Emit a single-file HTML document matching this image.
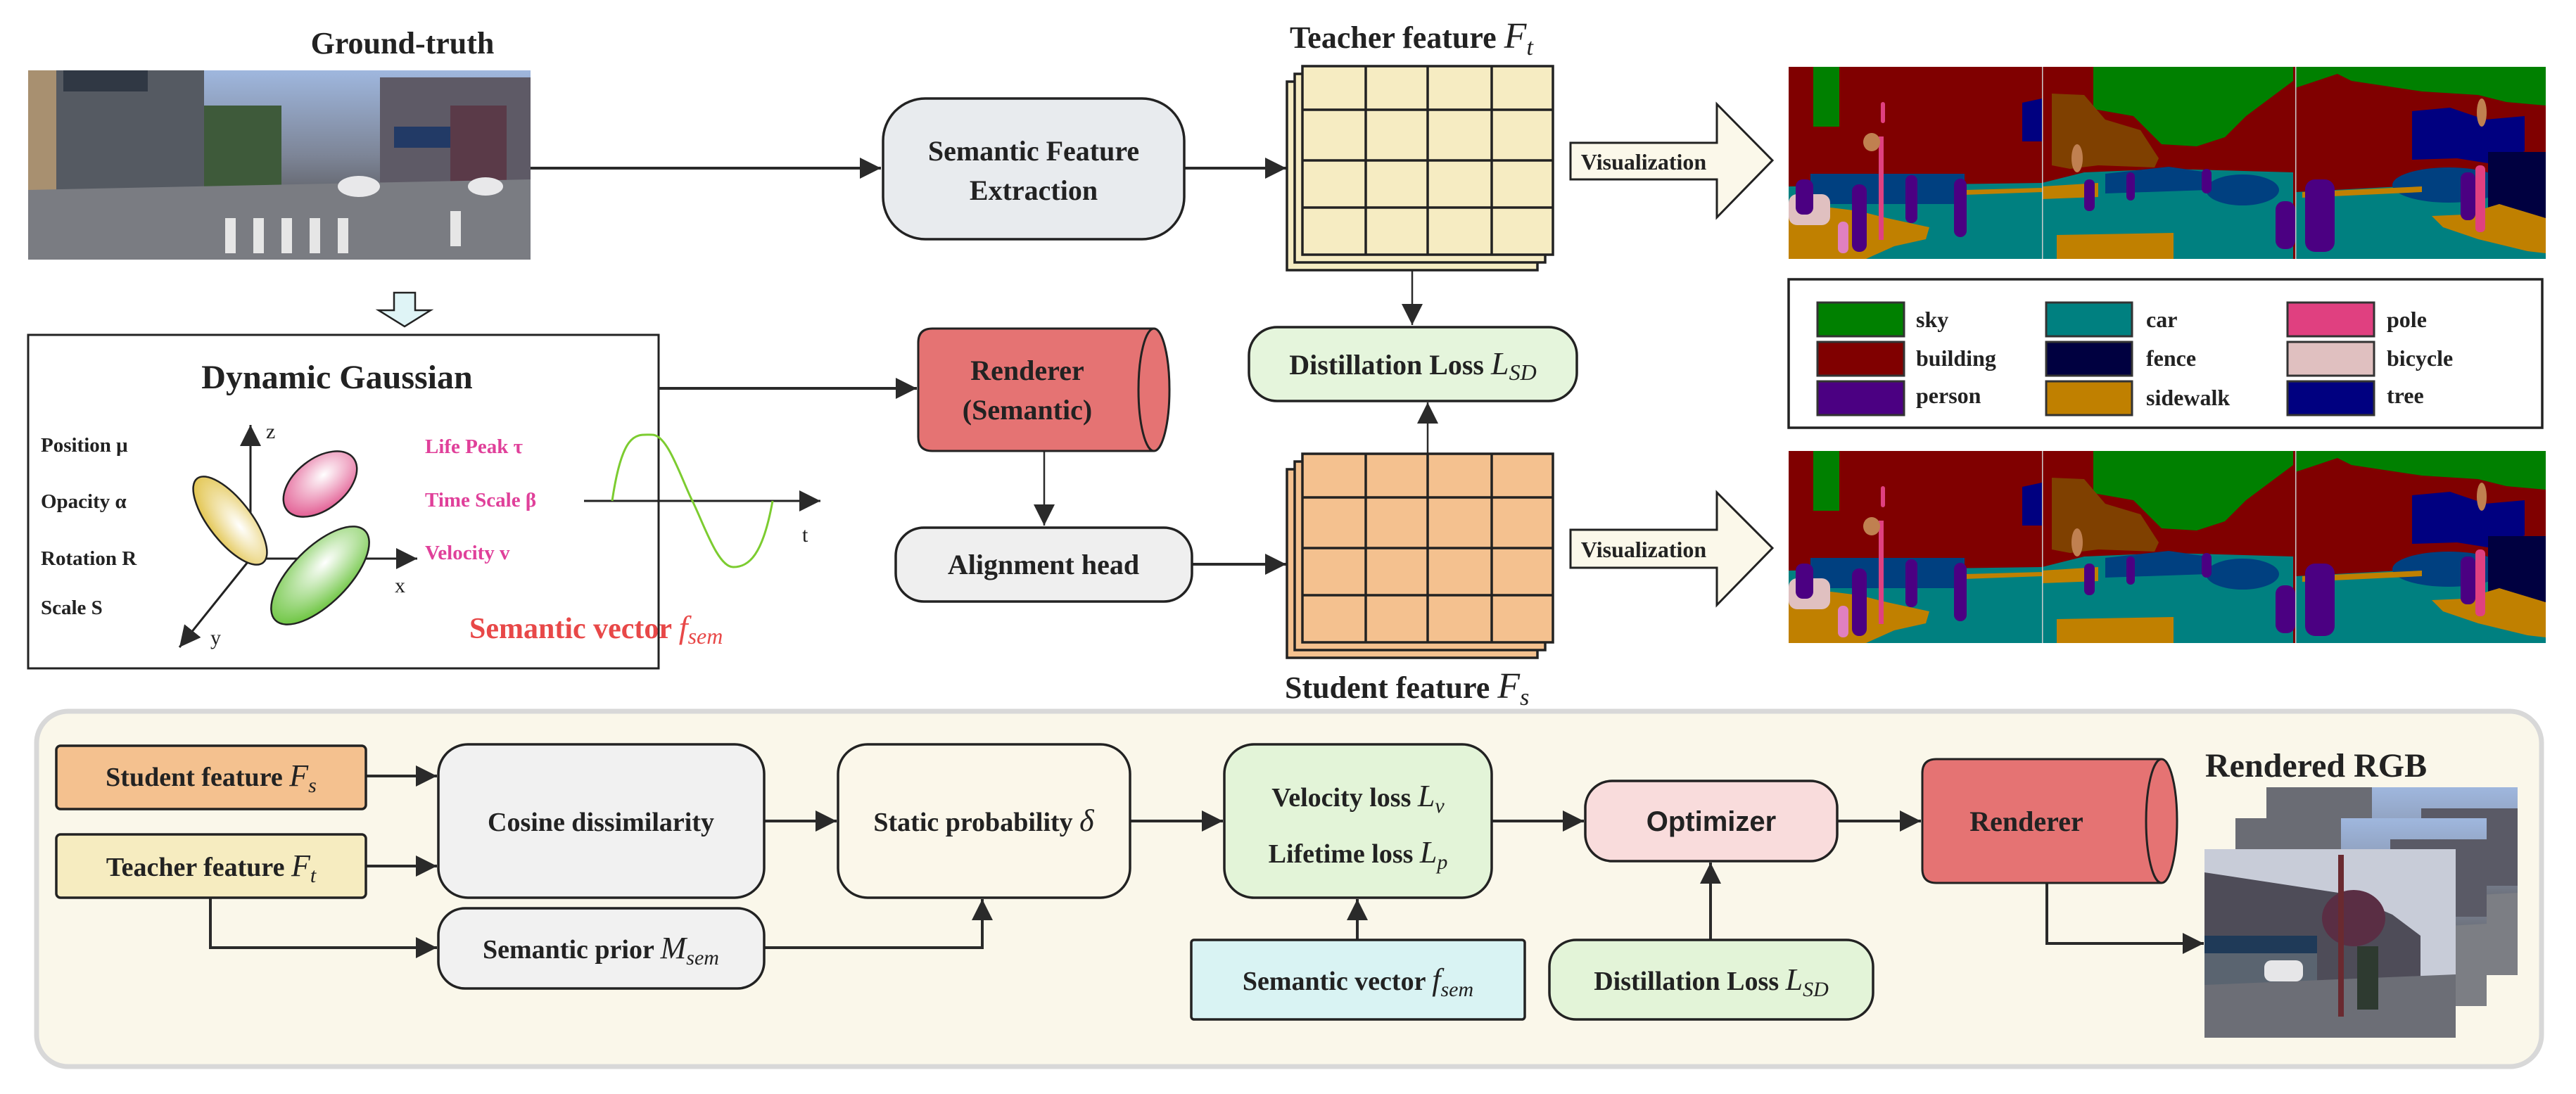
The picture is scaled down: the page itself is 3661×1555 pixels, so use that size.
<!DOCTYPE html>
<html><head><meta charset="utf-8"><style>
html,body{margin:0;padding:0;background:#fff}
svg{display:block}
text{font-family:"Liberation Serif",serif;font-weight:bold;fill:#222}
.m{font-style:italic;font-weight:normal}
.pk{fill:#e0409a}
.rd{fill:#e84848}
</style></head><body>
<svg width="3661" height="1555" viewBox="0 0 3661 1555" xmlns="http://www.w3.org/2000/svg">
<defs>
<marker id="a" viewBox="0 0 10 10" refX="10" refY="5" markerWidth="30" markerHeight="30" markerUnits="userSpaceOnUse" orient="auto"><path d="M0,0 L10,5 L0,10 Z" fill="#2a2a2a"/></marker>
<linearGradient id="sky" x1="0" y1="0" x2="0" y2="1"><stop offset="0" stop-color="#9fb7de"/><stop offset="0.45" stop-color="#7d8597"/><stop offset="0.6" stop-color="#6a6e78"/><stop offset="1" stop-color="#8a8c92"/></linearGradient>
<radialGradient id="gp" cx="0.6" cy="0.4" r="0.7"><stop offset="0" stop-color="#fff"/><stop offset="1" stop-color="#e0508a"/></radialGradient>
<radialGradient id="gy" cx="0.6" cy="0.4" r="0.7"><stop offset="0" stop-color="#fff"/><stop offset="1" stop-color="#e0c040"/></radialGradient>
<radialGradient id="gg" cx="0.6" cy="0.4" r="0.7"><stop offset="0" stop-color="#fff"/><stop offset="1" stop-color="#60c030"/></radialGradient>
<g id="seg">
<rect x="0" y="0" width="1076" height="273" fill="#800000"/>
<rect x="35" y="0" width="37" height="85" fill="#008000"/>
<path d="M433,0 L717,0 L717,20 L650,70 L620,100 L580,113 L530,110 L490,70 L433,60 Z" fill="#008000"/>
<path d="M720,0 L1076,0 L1076,55 L1020,50 L980,40 L900,35 L800,20 L780,10 L720,30 Z" fill="#008000"/>
<path d="M374,38 L420,40 L450,75 L500,90 L526,130 L520,143 L440,140 L400,145 L374,140 Z" fill="#7f4000"/>
<path d="M0,170 L360,165 L420,150 L540,145 L717,150 L717,273 L0,273 Z" fill="#008080"/>
<path d="M720,178 L870,170 L1076,160 L1076,273 L720,273 Z" fill="#008080"/>
<path d="M31,152 L250,152 L250,195 L31,195 Z" fill="#004080"/>
<path d="M450,152 L540,142 L596,150 L596,175 L450,180 Z" fill="#004080"/>
<ellipse cx="645" cy="175" rx="52" ry="22" fill="#004080"/>
<ellipse cx="938" cy="168" rx="80" ry="25" fill="#004080"/>
<path d="M886,63 L940,58 L990,75 L1046,70 L1046,120 L1000,138 L950,130 L886,132 Z" fill="#000080"/>
<path d="M332,51 L360,45 L360,106 L332,106 Z" fill="#000080"/>
<path d="M994,121 L1076,121 L1076,239 L994,239 Z" fill="#000040"/>
<path d="M0,205 L60,200 L100,205 L140,215 L200,228 L195,245 L150,255 L110,273 L0,273 Z" fill="#c08000"/>
<path d="M381,239 L547,236 L547,273 L381,273 Z" fill="#c08000"/>
<path d="M914,212 L960,210 L1010,195 L1076,215 L1076,265 L1050,262 L980,245 L930,228 Z" fill="#c08000"/>
<path d="M250,175 L360,172 L360,178 L250,182 Z M360,170 L440,165 L440,185 L360,188 Z M730,178 L900,170 L900,178 L730,186 Z" fill="#c08000"/>
<rect x="0" y="181" width="59" height="44" rx="12" fill="#e0c0c0"/>
<g fill="#4b0082">
<rect x="90" y="167" width="21" height="96" rx="10"/><rect x="166" y="154" width="17" height="68" rx="8"/>
<rect x="235" y="159" width="18" height="83" rx="9"/><rect x="10" y="160" width="25" height="50" rx="10"/>
<rect x="734" y="160" width="42" height="103" rx="14"/><rect x="955" y="150" width="21" height="68" rx="9"/>
<rect x="692" y="191" width="28" height="68" rx="12"/><rect x="420" y="160" width="15" height="45" rx="7"/>
<rect x="480" y="150" width="12" height="40" rx="6"/><rect x="587" y="145" width="14" height="35" rx="7"/>
</g>
<rect x="70" y="220" width="15" height="45" rx="7" fill="#e080c0"/>
<rect x="128" y="99" width="7" height="147" fill="#e04080"/>
<rect x="976" y="140" width="14" height="95" rx="6" fill="#e04080"/>
<rect x="131" y="50" width="6" height="30" rx="3" fill="#e04080"/>
<ellipse cx="985" cy="65" rx="7" ry="20" fill="#c08050"/>
<ellipse cx="118" cy="107" rx="12" ry="13" fill="#c08050"/>
<ellipse cx="410" cy="130" rx="8" ry="20" fill="#c08050"/>
<rect x="360" y="0" width="1.5" height="273" fill="#ccc"/>
<rect x="720" y="0" width="1.5" height="273" fill="#ccc"/>
</g>
<g id="photo">
<rect x="0" y="0" width="357" height="267" fill="url(#sky)"/>
<rect x="0" y="0" width="150" height="120" fill="#6a6c74"/>
<rect x="220" y="30" width="137" height="110" fill="#5a5a66"/>
<path d="M0,170 L357,150 L357,267 L0,267 Z" fill="#7c7e84"/>
<rect x="60" y="200" width="40" height="8" fill="#d8d8d8"/><rect x="140" y="205" width="40" height="8" fill="#d8d8d8"/>
</g>
</defs>

<text x="572" y="76" font-size="44" text-anchor="middle">Ground-truth</text>
<g>
<rect x="40" y="100" width="714" height="269" fill="url(#sky)"/>
<rect x="40" y="100" width="40" height="180" fill="#a89070"/>
<rect x="80" y="100" width="210" height="170" fill="#555a62"/>
<rect x="90" y="100" width="120" height="30" fill="#303844"/>
<rect x="290" y="150" width="110" height="120" fill="#3e5a3a"/>
<rect x="540" y="110" width="214" height="160" fill="#5e5a66"/>
<rect x="560" y="180" width="120" height="30" fill="#223a66"/>
<rect x="640" y="150" width="80" height="120" fill="#5a3a48"/>
<path d="M40,270 L754,255 L754,369 L40,369 Z" fill="#7a7c82"/>
<g fill="#e6e6e6"><rect x="320" y="310" width="15" height="50"/><rect x="360" y="310" width="15" height="50"/><rect x="400" y="310" width="15" height="50"/><rect x="440" y="310" width="15" height="50"/><rect x="480" y="310" width="15" height="50"/><rect x="640" y="300" width="15" height="50"/></g>
<ellipse cx="510" cy="265" rx="30" ry="15" fill="#e8e8ea"/><ellipse cx="690" cy="265" rx="25" ry="13" fill="#e8e8ea"/>
</g>
<path d="M560,416 L590,416 L590,441 L612,441 L575,464 L538,441 L560,441 Z" fill="#dff4f6" stroke="#222" stroke-width="2.5"/>

<rect x="40" y="476" width="896" height="474" fill="#fff" stroke="#222" stroke-width="3"/>
<text x="479" y="552" font-size="48" text-anchor="middle">Dynamic Gaussian</text>
<g font-size="29"><text x="58" y="642">Position μ</text><text x="58" y="722">Opacity α</text><text x="58" y="803">Rotation R</text><text x="58" y="873">Scale S</text></g>
<g stroke="#222" stroke-width="3" fill="none">
<line x1="356" y1="794" x2="356" y2="604" marker-end="url(#a)"/>
<line x1="356" y1="794" x2="593" y2="794" marker-end="url(#a)"/>
<line x1="356" y1="794" x2="255" y2="920" marker-end="url(#a)"/>
</g>
<g font-size="30"><text x="378" y="623" style="font-weight:normal">z</text><text x="561" y="842" style="font-weight:normal">x</text><text x="299" y="916" style="font-weight:normal">y</text></g>
<ellipse cx="327" cy="740" rx="76" ry="30" transform="rotate(52 327 740)" fill="url(#gy)" stroke="#222" stroke-width="2.5"/>
<ellipse cx="455" cy="688" rx="60" ry="36" transform="rotate(-38 455 688)" fill="url(#gp)" stroke="#222" stroke-width="2.5"/>
<ellipse cx="455" cy="818" rx="90" ry="40" transform="rotate(-45 455 818)" fill="url(#gg)" stroke="#222" stroke-width="2.5"/>
<g font-size="29"><text class="pk" x="604" y="644">Life Peak  τ</text><text class="pk" x="604" y="720">Time Scale β</text><text class="pk" x="604" y="795">Velocity v</text></g>
<line x1="830" y1="712" x2="1166" y2="712" stroke="#222" stroke-width="3" marker-end="url(#a)"/>
<text x="1140" y="770" font-size="30" style="font-weight:normal">t</text>
<path d="M870,712 C885,610 905,618 927,618 C949,618 968,680 984,712 C1000,744 1020,806 1042,806 C1064,806 1084,790 1098,712" fill="none" stroke="#7ccc30" stroke-width="3"/>
<text class="rd" x="667" y="907" font-size="42">Semantic vector <tspan class="m rd" font-size="46">f</tspan><tspan class="m rd" font-size="32" dy="8">sem</tspan></text>

<g stroke="#2a2a2a" stroke-width="4" fill="none">
<line x1="754" y1="239" x2="1252" y2="239" marker-end="url(#a)"/>
<line x1="1684" y1="239" x2="1828" y2="239" marker-end="url(#a)"/>
<line x1="936" y1="552" x2="1303" y2="552" marker-end="url(#a)"/>
<line x1="1694" y1="802" x2="1828" y2="802" marker-end="url(#a)"/>
</g>
<g stroke="#2a2a2a" stroke-width="2.5" fill="none">
<line x1="1484" y1="640" x2="1484" y2="747" marker-end="url(#a)"/>
<line x1="2007" y1="373" x2="2007" y2="462" marker-end="url(#a)"/>
<line x1="2029" y1="645" x2="2029" y2="572" marker-end="url(#a)"/>
</g>

<rect x="1255" y="140" width="428" height="200" rx="60" fill="#e8ebee" stroke="#222" stroke-width="3.5"/>
<text x="1469" y="228" font-size="40" text-anchor="middle">Semantic Feature</text>
<text x="1469" y="284" font-size="40" text-anchor="middle">Extraction</text>

<path d="M1325,467 L1640,467 A22,87 0 0 1 1640,641 L1325,641 Q1305,641 1305,621 L1305,487 Q1305,467 1325,467 Z" fill="#e57373" stroke="#222" stroke-width="3"/>
<path d="M1640,467 A22,87 0 0 0 1640,641" fill="none" stroke="#222" stroke-width="3"/>
<text x="1460" y="540" font-size="40" text-anchor="middle">Renderer</text>
<text x="1460" y="596" font-size="40" text-anchor="middle">(Semantic)</text>

<rect x="1273" y="750" width="421" height="105" rx="40" fill="#efefef" stroke="#222" stroke-width="3.5"/>
<text x="1483" y="816" font-size="40" text-anchor="middle">Alignment head</text>

<text x="1833" y="68" font-size="44">Teacher feature <tspan class="m" font-size="52">F</tspan><tspan class="m" font-size="34" dy="10">t</tspan></text>
<g stroke="#222" stroke-width="3.5">
<rect x="1829" y="116" width="356" height="268" fill="#f6ecc2"/>
<rect x="1840" y="105" width="356" height="268" fill="#f6ecc2"/>
<rect x="1851" y="94" width="356" height="268" fill="#f6ecc2"/>
<line x1="1941" y1="94" x2="1941" y2="362"/><line x1="2029" y1="94" x2="2029" y2="362"/><line x1="2120" y1="94" x2="2120" y2="362"/>
<line x1="1851" y1="156" x2="2207" y2="156"/><line x1="1851" y1="228" x2="2207" y2="228"/><line x1="1851" y1="295" x2="2207" y2="295"/>
</g>
<g stroke="#222" stroke-width="3.5">
<rect x="1829" y="667" width="356" height="268" fill="#f4c18f"/>
<rect x="1840" y="656" width="356" height="268" fill="#f4c18f"/>
<rect x="1851" y="645" width="356" height="268" fill="#f4c18f"/>
<line x1="1941" y1="645" x2="1941" y2="913"/><line x1="2029" y1="645" x2="2029" y2="913"/><line x1="2120" y1="645" x2="2120" y2="913"/>
<line x1="1851" y1="707" x2="2207" y2="707"/><line x1="1851" y1="779" x2="2207" y2="779"/><line x1="1851" y1="846" x2="2207" y2="846"/>
</g>
<text x="1826" y="992" font-size="44">Student feature <tspan class="m" font-size="52">F</tspan><tspan class="m" font-size="34" dy="10">s</tspan></text>

<rect x="1775" y="465" width="466" height="105" rx="40" fill="#e5f5dc" stroke="#222" stroke-width="3.5"/>
<text x="2008" y="532" font-size="40" text-anchor="middle">Distillation Loss <tspan class="m" font-size="46">L</tspan><tspan class="m" font-size="32" dy="8">SD</tspan></text>

<path d="M2232,203 L2440,203 L2440,148 L2519,228 L2440,309 L2440,255 L2232,255 Z" fill="#fbf8ea" stroke="#222" stroke-width="3"/>
<text x="2336" y="241" font-size="32" text-anchor="middle">Visualization</text>
<path d="M2232,753 L2440,753 L2440,700 L2519,779 L2440,860 L2440,807 L2232,807 Z" fill="#fbf8ea" stroke="#222" stroke-width="3"/>
<text x="2336" y="792" font-size="32" text-anchor="middle">Visualization</text>

<use href="#seg" x="2542" y="95"/>
<use href="#seg" x="2542" y="641"/>

<rect x="2542" y="397" width="1071" height="211" fill="#fff" stroke="#222" stroke-width="3.5"/>
<g stroke="#333" stroke-width="3">
<rect x="2583" y="430" width="123" height="48" fill="#008000"/><rect x="2583" y="486" width="123" height="48" fill="#800000"/><rect x="2583" y="542" width="123" height="48" fill="#4b0082"/>
<rect x="2908" y="430" width="122" height="48" fill="#008080"/><rect x="2908" y="486" width="122" height="48" fill="#000040"/><rect x="2908" y="542" width="122" height="48" fill="#c08000"/>
<rect x="3251" y="430" width="123" height="48" fill="#e04080"/><rect x="3251" y="486" width="123" height="48" fill="#e0c0c0"/><rect x="3251" y="542" width="123" height="48" fill="#000080"/>
</g>
<g font-size="32">
<text x="2723" y="465">sky</text><text x="2723" y="520">building</text><text x="2723" y="573">person</text>
<text x="3050" y="465">car</text><text x="3050" y="520">fence</text><text x="3050" y="576">sidewalk</text>
<text x="3392" y="465">pole</text><text x="3392" y="520">bicycle</text><text x="3392" y="573">tree</text>
</g>

<rect x="52" y="1011" width="3560" height="505" rx="45" fill="#faf7ea" stroke="#d8d8d8" stroke-width="7"/>
<g stroke="#2a2a2a" stroke-width="4" fill="none">
<line x1="521" y1="1103" x2="621" y2="1103" marker-end="url(#a)"/>
<line x1="521" y1="1231" x2="621" y2="1231" marker-end="url(#a)"/>
<line x1="1086" y1="1167" x2="1189" y2="1167" marker-end="url(#a)"/>
<line x1="1606" y1="1167" x2="1738" y2="1167" marker-end="url(#a)"/>
<line x1="2120" y1="1167" x2="2251" y2="1167" marker-end="url(#a)"/>
<line x1="2611" y1="1167" x2="2730" y2="1167" marker-end="url(#a)"/>
<polyline points="299,1276 299,1347 621,1347" marker-end="url(#a)"/>
<polyline points="1086,1347 1396,1347 1396,1278" marker-end="url(#a)"/>
<line x1="1929" y1="1336" x2="1929" y2="1278" marker-end="url(#a)"/>
<line x1="2431" y1="1336" x2="2431" y2="1226" marker-end="url(#a)"/>
<polyline points="2909,1254 2909,1341 3132,1341" marker-end="url(#a)"/>
</g>
<g stroke="#222" stroke-width="3.5">
<rect x="80" y="1060" width="440" height="90" rx="6" fill="#f4c18f"/>
<rect x="80" y="1186" width="440" height="90" rx="6" fill="#f6ecc0"/>
<rect x="623" y="1058" width="463" height="218" rx="42" fill="#f1f1f1"/>
<rect x="1191" y="1058" width="415" height="218" rx="42" fill="#fbf7ea"/>
<rect x="1740" y="1058" width="380" height="218" rx="42" fill="#e3f4d8"/>
<rect x="2253" y="1110" width="358" height="114" rx="38" fill="#f9dcdc"/>
<rect x="623" y="1291" width="463" height="114" rx="38" fill="#f1f1f1"/>
<rect x="1693" y="1336" width="474" height="113" rx="4" fill="#d9f3f3"/>
<rect x="2202" y="1336" width="460" height="113" rx="38" fill="#e3f4d8"/>
</g>
<g font-size="38">
<text x="300" y="1117" text-anchor="middle">Student feature <tspan class="m" font-size="44">F</tspan><tspan class="m" font-size="30" dy="9">s</tspan></text>
<text x="300" y="1245" text-anchor="middle">Teacher feature <tspan class="m" font-size="44">F</tspan><tspan class="m" font-size="30" dy="9">t</tspan></text>
<text x="854" y="1181" text-anchor="middle">Cosine dissimilarity</text>
<text x="1398" y="1181" text-anchor="middle">Static probability <tspan class="m" font-size="44">δ</tspan></text>
<text x="1930" y="1146" text-anchor="middle">Velocity loss <tspan class="m" font-size="44">L</tspan><tspan class="m" font-size="30" dy="9">v</tspan></text>
<text x="1930" y="1226" text-anchor="middle">Lifetime loss <tspan class="m" font-size="44">L</tspan><tspan class="m" font-size="30" dy="9">p</tspan></text>
<text x="854" y="1362" text-anchor="middle">Semantic prior <tspan class="m" font-size="44">M</tspan><tspan class="m" font-size="30" dy="9">sem</tspan></text>
<text x="1930" y="1407" text-anchor="middle">Semantic vector  <tspan class="m" font-size="44">f</tspan><tspan class="m" font-size="30" dy="9">sem</tspan></text>
<text x="2432" y="1407" text-anchor="middle">Distillation Loss <tspan class="m" font-size="44">L</tspan><tspan class="m" font-size="30" dy="9">SD</tspan></text>
</g>
<text x="2432" y="1181" font-size="40" text-anchor="middle" style="font-family:'Liberation Sans',sans-serif">Optimizer</text>

<path d="M2752,1079 L3072,1079 A22,88 0 0 1 3072,1255 L2752,1255 Q2732,1255 2732,1235 L2732,1099 Q2732,1079 2752,1079 Z" fill="#e57373" stroke="#222" stroke-width="3"/>
<path d="M3072,1079 A22,88 0 0 0 3072,1255" fill="none" stroke="#222" stroke-width="3"/>
<text x="2880" y="1181" font-size="40" text-anchor="middle">Renderer</text>

<text x="3134" y="1104" font-size="48">Rendered RGB</text>
<use href="#photo" x="3221" y="1119"/>
<use href="#photo" x="3177" y="1163"/>
<g>
<rect x="3133" y="1207" width="357" height="268" fill="#c8ccd8"/>
<path d="M3133,1240 L3330,1270 L3400,1300 L3440,1330 L3440,1430 L3133,1430 Z" fill="#4e4c58"/>
<rect x="3133" y="1330" width="160" height="25" fill="#1f3a58"/>
<rect x="3133" y="1355" width="160" height="50" fill="#5a6470"/>
<ellipse cx="3345" cy="1305" rx="45" ry="40" fill="#5a2e44"/>
<path d="M3133,1400 L3490,1385 L3490,1475 L3133,1475 Z" fill="#6c6e76"/>
<rect x="3218" y="1365" width="55" height="30" rx="10" fill="#e6e6e8"/>
<rect x="3323" y="1215" width="8" height="230" fill="#6a2a30"/>
<rect x="3350" y="1345" width="30" height="90" fill="#2e3a30"/>
</g>
</svg>
</body></html>
